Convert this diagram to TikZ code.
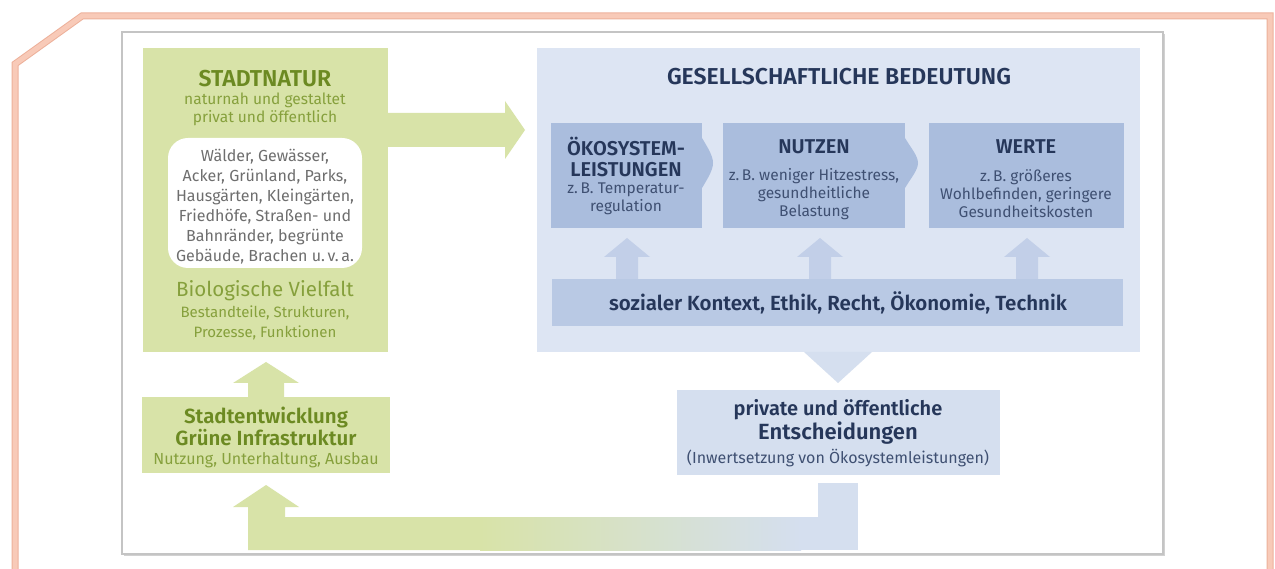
\documentclass[tikz,border=0pt]{standalone}
\usepackage{fontspec}
\setmainfont{Fira Sans}[BoldFont={Fira Sans SemiBold}]
\usetikzlibrary{calc}
\definecolor{pinkf}{HTML}{F8CAB8}
\definecolor{pinke}{HTML}{EDB09A}
\definecolor{framec}{HTML}{C4C4C4}
\definecolor{greenf}{HTML}{D8E3A8}
\definecolor{gtitle}{HTML}{6C8A22}
\definecolor{gtext}{HTML}{86A03C}
\definecolor{graytext}{HTML}{6E6E6E}
\definecolor{bluepanel}{HTML}{DDE5F3}
\definecolor{subbox}{HTML}{AABDDD}
\definecolor{barc}{HTML}{B9C9E4}
\definecolor{smallarr}{HTML}{C2CFE8}
\definecolor{entc}{HTML}{D5DFEF}
\definecolor{navy}{HTML}{26375A}
\definecolor{navysub}{HTML}{3F5072}
\begin{document}
\begin{tikzpicture}[x=1pt,y=-1pt,
  panel/.style={inner sep=0pt,outer sep=0pt,anchor=north west,draw=none},
  gbig/.style={text=gtitle,align=center,font=\fontsize{23}{26}\selectfont\bfseries},
  gsmall/.style={text=gtext,align=center,font=\fontsize{15.5}{18}\selectfont},
  wtext/.style={text=graytext,align=center,font=\fontsize{16}{20}\selectfont},
  btitle/.style={text=navy,align=center,font=\fontsize{20}{21}\selectfont\bfseries},
  bsub/.style={text=navysub,align=center,font=\fontsize{15.5}{18}\selectfont},
  inner sep=0pt]
\useasboundingbox (0,0) rectangle (1275,569);
\fill[white] (0,0) rectangle (1275,569);
% outer pink frame
\draw[pinke,line width=7pt,line join=miter] (15,575) -- (15,64) -- (82,16) -- (1270,16) -- (1270,575);
\draw[pinkf,line width=5pt,line join=miter] (15,575) -- (15,64) -- (82,16) -- (1270,16) -- (1270,575);
% inner frame
\fill[black!18] (124,34) rectangle (1165,556);
\node[panel,fill=white,draw=framec,line width=1.2pt,minimum width=1041pt,minimum height=522pt] (frame) at (122,32) {};

% ---------- green side ----------
\node[panel,fill=greenf,minimum width=245pt,minimum height=304pt] (natur) at (143,48) {};
\node[gbig] (tnatur) at (265,79) {STADTNATUR};
\node[gsmall] (tnatur2) at (265,109) {naturnah und gestaltet\\privat und öffentlich};
\node[panel,fill=white,rounded corners=20pt,minimum width=194pt,minimum height=130pt] (wbox) at (168,138) {};
\node[wtext] (twbox) at (265,207) {Wälder, Gewässer,\\Acker, Grünland, Parks,\\Hausgärten, Kleingärten,\\Friedhöfe, Straßen- und\\Bahnränder, begrünte\\Gebäude, Brachen u.\,v.\,a.};
\node[text=gtext,font=\fontsize{20.5}{22}\selectfont] (tbio) at (265,291) {Biologische Vielfalt};
\node[gsmall,font=\fontsize{15}{20}\selectfont] (tbio2) at (265,323) {Bestandteile, Strukturen,\\Prozesse, Funktionen};

\node[panel,fill=greenf,minimum width=248pt,minimum height=76pt] (stadt) at (142,397) {};
\node[gbig,font=\fontsize{20.5}{22}\selectfont\bfseries] (tstadt) at (266,426) {Stadtentwicklung\\Grüne Infrastruktur};
\node[gsmall,font=\fontsize{16}{18}\selectfont] (tstadt2) at (266,460) {Nutzung, Unterhaltung, Ausbau};

% up arrow stadt -> natur
\coordinate (upA) at (266,362);
\fill[greenf] (248,397) -- (248,383) -- (233,383) -- (upA) -- (299,383) -- (284,383) -- (284,397) -- cycle;

% right arrow natur -> blue panel
\coordinate (rtip) at (525,130);
\fill[greenf] (388,113) -- (505,113) -- (505,101) -- (rtip) -- (505,159) -- (505,147) -- (388,147) -- cycle;

% ---------- blue side ----------
\node[panel,fill=bluepanel,minimum width=603pt,minimum height=304pt] (ges) at (537,48) {};
\node[text=navy,font=\fontsize{23}{26}\selectfont\bfseries] (tges) at (839,77) {GESELLSCHAFTLICHE BEDEUTUNG};

\node[panel,fill=subbox,minimum width=151pt,minimum height=105pt] (oek) at (551,123) {};
\fill[subbox] (702,138) .. controls (708,148) and (713,156) .. (713,163) .. controls (713,170) and (708,178) .. (702,188) -- cycle;
\node[panel,fill=subbox,minimum width=182pt,minimum height=105pt] (nutz) at (723,123) {};
\fill[subbox] (905,138) .. controls (911,148) and (918,156) .. (918,163) .. controls (918,170) and (911,178) .. (905,188) -- cycle;
\node[panel,fill=subbox,minimum width=195pt,minimum height=105pt] (wert) at (929,123) {};

\node[btitle] (toek) at (626,157) {ÖKOSYSTEM-\\LEISTUNGEN};
\node[bsub] (toek2) at (626,199) {z.\,B. Temperatur-\\regulation};
\node[btitle] (tnutz) at (814,147) {NUTZEN};
\node[bsub] (tnutz2) at (814,194) {z.\,B. weniger Hitzestress,\\gesundheitliche\\Belastung};
\node[btitle] (twert) at (1026,147) {WERTE};
\node[bsub] (twert2) at (1026,194) {z.\,B. größeres\\Wohlbefinden, geringere\\Gesundheitskosten};

\node[panel,fill=barc,minimum width=571pt,minimum height=47pt] (bar) at (552,279) {};
\node[text=navy,font=\fontsize{20.5}{22}\selectfont\bfseries] (tbar) at (838,303) {sozialer Kontext, Ethik, Recht, Ökonomie, Technik};

% small up arrows
\foreach \cx/\nm in {627/a1,820/a2,1027/a3}{
  \coordinate (\nm) at (\cx,238);
  \fill[smallarr] (\cx-11,279) -- (\cx-11,257) -- (\cx-23,257) -- (\nm) -- (\cx+23,257) -- (\cx+11,257) -- (\cx+11,279) -- cycle;
}

% down arrow
\coordinate (dtip) at (838,383);
\fill[entc] (804,352) -- (dtip) -- (872,352) -- cycle;

\node[panel,fill=entc,minimum width=323pt,minimum height=85pt] (ent) at (677,390) {};
\node[text=navy,font=\fontsize{20}{22}\selectfont\bfseries] (tent1) at (838,410) {private und öffentliche};
\node[text=navy,font=\fontsize{22}{24}\selectfont\bfseries] (tent2) at (838,433) {Entscheidungen};
\node[text=navysub,font=\fontsize{16}{18}\selectfont] (tent3) at (838,458) {(Inwertsetzung von Ökosystemleistungen)};

% feedback arrow
\coordinate (ftip) at (266,485);
\fill[greenf] (248,550) -- (248,507) -- (233,507) -- (ftip) -- (299,507) -- (285,507) -- (285,517) -- (481,517) -- (481,550) -- cycle;
\shade[left color=greenf,right color=entc] (480,517) rectangle (801,550);
\fill[entc] (800,517) rectangle (819,550);
\fill[entc] (818,483) rectangle (858,550);
\end{tikzpicture}
\end{document}
